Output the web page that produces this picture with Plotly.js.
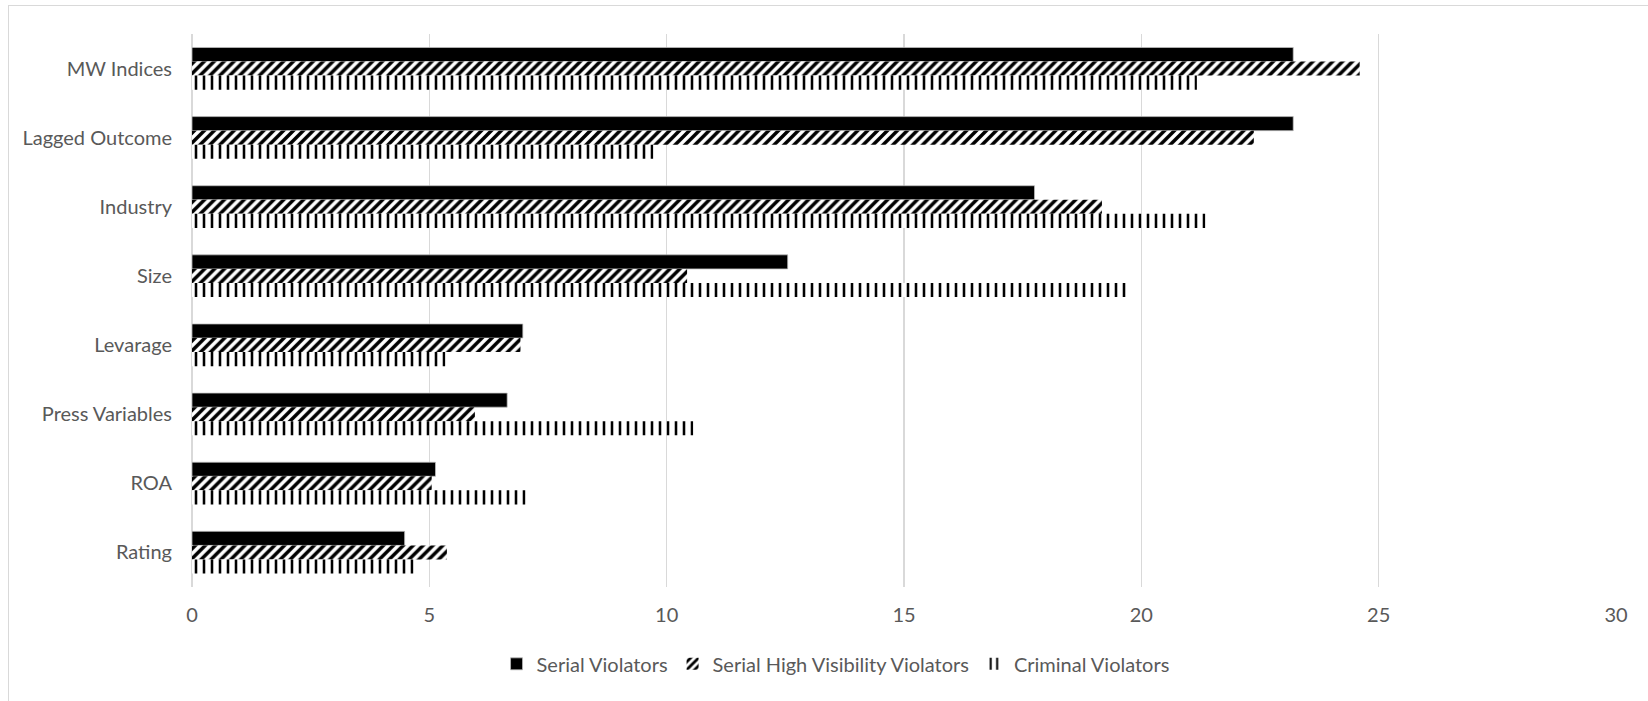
<!DOCTYPE html>
<html>
<head>
<meta charset="utf-8">
<script src="https://cdn.plot.ly/plotly-3.0.1.min.js"></script>
<style>
  html, body { margin: 0; padding: 0; background: #ffffff; }
  #frame { position: absolute; left: 8px; top: 5px; width: 1700px; height: 760px;
           border-left: 1.5px solid #d9d9d9; border-top: 1.5px solid #d9d9d9; pointer-events: none; }
  #chart { position: absolute; left: 0; top: 0; width: 1648px; height: 701px; }
</style>
</head>
<body>
<div id="chart"></div>
<div id="frame"></div>
<script>
// Model components, listed top to bottom
const categories = ["MW Indices", "Lagged Outcome", "Industry", "Size", "Levarage", "Press Variables", "ROA", "Rating"];

const serialViolators         = [23.2, 23.2, 17.75, 12.55, 6.97, 6.64, 5.13, 4.48];
const serialHighVisibility    = [24.6, 22.37, 19.17, 10.43, 6.92, 5.96, 5.05, 5.37];
const criminalViolators       = [21.17, 9.72, 21.35, 19.68, 5.34, 10.56, 7.03, 4.67];

const seriesNames = ["Serial Violators", "Serial High Visibility Violators", "Criminal Violators"];
const xTicks = [0, 5, 10, 15, 20, 25, 30];

const font = "Lato, 'Open Sans', sans-serif";

const traces = [
  {
    type: "bar", orientation: "h", name: seriesNames[0],
    y: categories, x: serialViolators,
    marker: { color: "#000000", line: { color: "#bfbfbf", width: 0.75 } }
  },
  {
    type: "bar", orientation: "h", name: seriesNames[1],
    y: categories, x: serialHighVisibility,
    marker: {
      color: "#ffffff",
      line: { width: 0 },
      pattern: { shape: "/", fgcolor: "#000000", bgcolor: "#ffffff", size: 7, solidity: 0.5, fillmode: "replace" }
    }
  },
  {
    type: "bar", orientation: "h", name: seriesNames[2],
    y: categories, x: criminalViolators,
    marker: {
      color: "#ffffff",
      line: { width: 0 },
      pattern: { shape: "|", fgcolor: "#000000", bgcolor: "#ffffff", size: 8, solidity: 0.32, fillmode: "replace" }
    }
  }
];

const layout = {
  width: 1648, height: 701,
  paper_bgcolor: "#ffffff", plot_bgcolor: "#ffffff",
  margin: { l: 192, r: 32, t: 34, b: 114 },
  barmode: "group", bargap: 0.39, bargroupgap: 0,
  font: { family: font, size: 20, color: "#595959" },
  xaxis: {
    range: [0, 30], tickvals: xTicks, ticktext: xTicks.map(String),
    showgrid: true, gridcolor: "#d9d9d9", gridwidth: 1.5,
    zeroline: true, zerolinecolor: "#d9d9d9", zerolinewidth: 1.5,
    showline: false, ticks: "", ticklabelstandoff: 14,
    tickfont: { family: font, size: 20, color: "#595959" },
    fixedrange: true
  },
  yaxis: {
    type: "category", autorange: "reversed",
    showgrid: false, zeroline: false, showline: false, ticks: "",
    ticklabelstandoff: 19,
    tickfont: { family: font, size: 20, color: "#595959" },
    fixedrange: true
  },
  showlegend: true,
  legend: {
    orientation: "h", xref: "container", yref: "container",
    x: 0.507, xanchor: "center", y: 0.053, yanchor: "middle",
    font: { family: font, size: 20, color: "#595959" },
    itemwidth: 30, traceorder: "normal"
  }
};

Plotly.newPlot("chart", traces, layout, { displayModeBar: false, staticPlot: true });
</script>
</body>
</html>
